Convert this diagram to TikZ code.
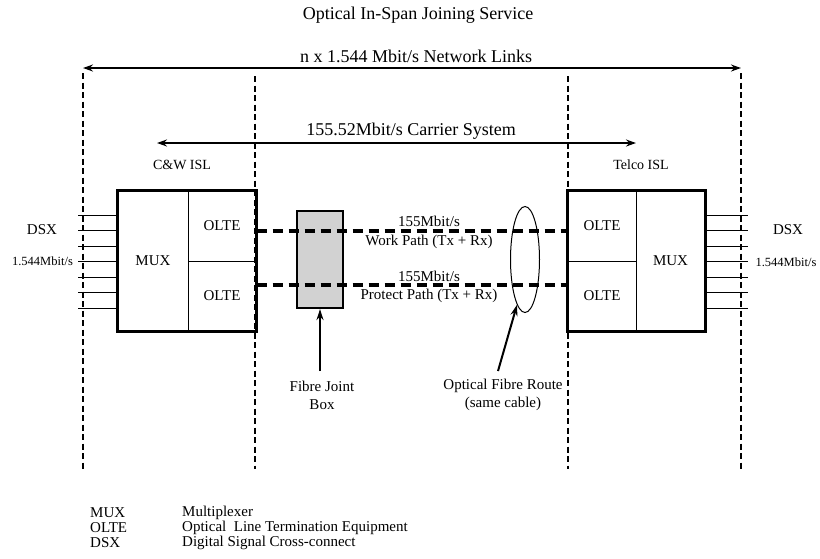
\documentclass[tikz,border=0pt]{standalone}
\usepackage{fontspec}
\setmainfont{Liberation Serif}
\usetikzlibrary{arrows.meta,shapes.geometric}
\tikzset{
  txt/.style={inner sep=0pt, align=center, font=\fontsize{15}{18}\selectfont},
  bigtxt/.style={inner sep=0pt, align=center, font=\fontsize{18}{21}\selectfont},
  smalltxt/.style={inner sep=0pt, font=\fontsize{12.5}{15}\selectfont},
  islbl/.style={inner sep=0pt, font=\fontsize{14}{17}\selectfont},
  cell/.style={draw, line width=1pt, inner sep=0pt, font=\fontsize{15}{18}\selectfont},
  outer/.style={draw, line width=2.2pt},
  vguide/.style={line width=1.6pt, dash pattern=on 6pt off 3.5pt},
  fibre/.style={line width=3.2pt, dash pattern=on 10pt off 6pt},
  dim/.style={line width=2pt, {Stealth[length=10pt,width=7pt]}-{Stealth[length=10pt,width=7pt]}},
  pointer/.style={line width=2pt, -{Stealth[length=11pt,width=7pt]}},
  tie/.style={line width=1pt},
}
\begin{document}
\begin{tikzpicture}[x=1pt,y=-1pt]
\useasboundingbox (0,0) rectangle (820,558);

% title
\node[bigtxt] (title) at (418,15) {Optical In-Span Joining Service};

% vertical guides
\coordinate (g1t) at (83,73);   \coordinate (g1b) at (83,469);
\coordinate (g2t) at (255,76);  \coordinate (g2b) at (255,469);
\coordinate (g3t) at (568,76);  \coordinate (g3b) at (568,469);
\coordinate (g4t) at (741,73);  \coordinate (g4b) at (741,469);
\draw[vguide] (g1t) -- (g1b);
\draw[vguide] (g2t) -- (g2b);
\draw[vguide] (g3t) -- (g3b);
\draw[vguide] (g4t) -- (g4b);

% dimension arrows
\coordinate (a1l) at (83,68); \coordinate (a1r) at (741,68);
\draw[dim] (a1l) -- (a1r);
\node[bigtxt] (netlinks) at (416,56) {n x 1.544 Mbit/s Network Links};
\coordinate (a2l) at (157,143); \coordinate (a2r) at (636,143);
\draw[dim] (a2l) -- (a2r);
\node[bigtxt] (carrier) at (411,131) {155.52Mbit/s Carrier System};

\node[islbl] (cwisl) at (182,165) {C\&W ISL};
\node[islbl] (telisl) at (641,165) {Telco ISL};

% fibre joint box (under the paths)
\node[draw, line width=2.2pt, fill=gray!35, minimum width=46pt, minimum height=97pt, inner sep=0pt] (fjb) at (320,259.5) {};

% left equipment
\node[cell, minimum width=70pt, minimum height=140pt] (lmux) at (153,261) {MUX};
\node[cell, minimum width=68pt, minimum height=70pt] (lolte1) at (222,226) {OLTE};
\node[cell, minimum width=68pt, minimum height=70pt] (lolte2) at (222,296) {OLTE};
\draw[outer] (lmux.north west) rectangle (lolte2.south east);

% right equipment
\node[cell, minimum width=68pt, minimum height=70pt] (rolte1) at (602,226) {OLTE};
\node[cell, minimum width=68pt, minimum height=70pt] (rolte2) at (602,296) {OLTE};
\node[cell, minimum width=69pt, minimum height=140pt] (rmux) at (670.5,261) {MUX};
\draw[outer] (rolte1.north west) rectangle (rmux.south east);

% DSX tie lines
\foreach \i in {0,...,6} {
  \pgfmathsetmacro{\yy}{215+15.5*\i}
  \coordinate (ldsx\i) at (78,\yy);
  \coordinate (rdsx\i) at (748,\yy);
  \draw[tie] (ldsx\i) -- (lmux.west |- ldsx\i);
  \draw[tie] (rmux.east |- rdsx\i) -- (rdsx\i);
}
\node[txt] (ldsx) at (42,230) {DSX};
\node[smalltxt] (lrate) at (42.5,261) {1.544Mbit/s};
\node[txt] (rdsx) at (788,230) {DSX};
\node[smalltxt] (rrate) at (786,262) {1.544Mbit/s};

% optical paths
\coordinate (wl) at (256,231); \coordinate (wr) at (568,231);
\coordinate (pl) at (256,285); \coordinate (pr) at (568,285);
\draw[fibre] (lolte1.east |- wl) -- (rolte1.west |- wr);
\draw[fibre] (lolte2.east |- pl) -- (rolte2.west |- pr);
\node[txt] (wrate) at (429,221) {155Mbit/s};
\node[txt] (wpath) at (429,242) {Work Path (Tx + Rx)};
\node[txt] (prate) at (429,276) {155Mbit/s};
\node[txt] (ppath) at (429,296) {Protect Path (Tx + Rx)};

% route ellipse
\node[draw, line width=1pt, ellipse, minimum width=29pt, minimum height=106pt, inner sep=0pt] (route) at (525,259.5) {};

% pointers and labels
\node[txt] (fjblbl) at (322,395) {Fibre Joint\\Box};
\node[txt] (ofrlbl) at (503,395) {Optical Fibre Route\\(same cable)};
\coordinate (fjbtail) at (320,371);
\draw[pointer] (fjbtail) -- (fjb.south);
\coordinate (ofrtail) at (498,371);
\draw[pointer] (ofrtail) -- (route.-100);

% legend
\node[txt, anchor=west] (k1) at (90,513) {MUX};
\node[txt, anchor=west] (d1) at (182,513) {Multiplexer};
\node[txt, anchor=west] (k2) at (90,528) {OLTE};
\node[txt, anchor=west] (d2) at (182,528) {Optical\ \ Line Termination Equipment};
\node[txt, anchor=west] (k3) at (90,543) {DSX};
\node[txt, anchor=west] (d3) at (182,543) {Digital Signal Cross-connect};
\end{tikzpicture}
\end{document}
